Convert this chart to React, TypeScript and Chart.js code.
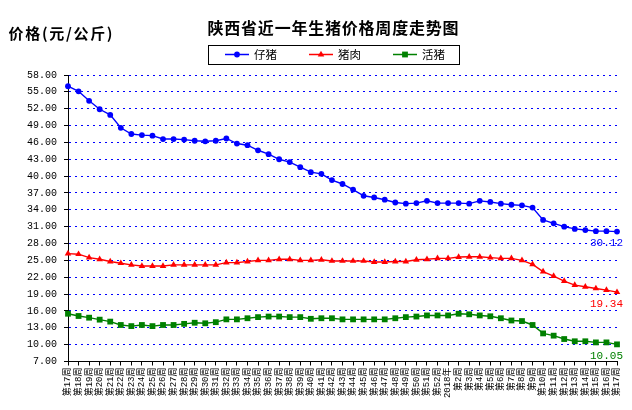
import React, { useEffect, useRef } from "react";
import { Chart, registerables } from "chart.js";

Chart.register(...registerables);

const chartTitle = "陕西省近一年生猪价格周度走势图";
const yUnitLabel = "价格(元/公斤)";

const weekLabels = [
  "第17周", "第18周", "第19周", "第20周", "第21周", "第22周", "第23周", "第24周", "第25周",
  "第26周", "第27周", "第28周", "第29周", "第30周", "第31周", "第32周", "第33周", "第34周",
  "第35周", "第36周", "第37周", "第38周", "第39周", "第40周", "第41周", "第42周", "第43周",
  "第44周", "第45周", "第46周", "第47周", "第48周", "第49周", "第50周", "第51周", "第52周",
  "2018年", "第2周", "第3周", "第4周", "第5周", "第6周", "第7周", "第8周", "第9周",
  "第10周", "第11周", "第12周", "第13周", "第14周", "第15周", "第16周", "第17周",
];

const pigletPrices = [
  56.0, 55.1, 53.4, 51.9, 50.9, 48.6, 47.5, 47.3, 47.2, 46.6,
  46.6, 46.5, 46.3, 46.2, 46.3, 46.7, 45.8, 45.5, 44.6, 43.9,
  43.0, 42.5, 41.6, 40.7, 40.4, 39.3, 38.6, 37.6, 36.5, 36.2,
  35.8, 35.3, 35.1, 35.2, 35.6, 35.2, 35.2, 35.2, 35.1, 35.6,
  35.4, 35.1, 34.9, 34.8, 34.4, 32.2, 31.6, 31.0, 30.6, 30.4,
  30.2, 30.2, 30.12,
];

const porkPrices = [
  26.2, 26.1, 25.5, 25.2, 24.8, 24.5, 24.2, 24.0, 24.0, 24.0,
  24.2, 24.2, 24.2, 24.2, 24.2, 24.6, 24.6, 24.8, 25.0, 25.0,
  25.2, 25.2, 25.0, 25.0, 25.1, 24.9, 24.9, 24.9, 24.9, 24.7,
  24.7, 24.8, 24.8, 25.1, 25.2, 25.35, 25.35, 25.6, 25.65, 25.65,
  25.5, 25.35, 25.35, 25.0, 24.3, 23.0, 22.2, 21.3, 20.6, 20.3,
  20.0, 19.7, 19.34,
];

const hogPrices = [
  15.5, 15.1, 14.8, 14.45, 14.1, 13.5, 13.3, 13.5, 13.3, 13.5,
  13.5, 13.7, 13.9, 13.8, 14.0, 14.5, 14.5, 14.7, 14.9, 15.0,
  15.0, 14.9, 14.9, 14.6, 14.7, 14.7, 14.5, 14.5, 14.5, 14.5,
  14.5, 14.7, 14.9, 15.0, 15.2, 15.2, 15.2, 15.5, 15.4, 15.2,
  15.05, 14.7, 14.3, 14.2, 13.5, 12.0, 11.6, 11.0, 10.6, 10.6,
  10.4, 10.4, 10.05,
];

const seriesNames = ["仔猪", "猪肉", "活猪"];
const seriesColors = ["#0000FF", "#FF0000", "#008000"];
const seriesMarkers = ["circle", "triangle", "rect"];

const yMin = 7;
const yMax = 58;
const yStep = 3;

const CJK = '"Noto Sans CJK SC"';
const MONO_CJK = '"Liberation Mono", "Noto Sans CJK SC"';

function fitText(ctx: CanvasRenderingContext2D, text: string, font: string, x: number, y: number, width: number) {
  ctx.font = font;
  (ctx as any).letterSpacing = "0px";
  const w = ctx.measureText(text).width;
  const n = Array.from(text).length;
  const sp = n > 1 ? (width - w) / (n - 1) : 0;
  (ctx as any).letterSpacing = `${sp}px`;
  ctx.fillText(text, x, y);
  (ctx as any).letterSpacing = "0px";
}

function drawMarker(ctx: CanvasRenderingContext2D, style: string, x: number, y: number, color: string) {
  ctx.fillStyle = color;
  ctx.beginPath();
  if (style === "circle") {
    ctx.arc(x, y, 2.9, 0, Math.PI * 2);
  } else if (style === "triangle") {
    const r = 3.8;
    ctx.moveTo(x, y - r);
    ctx.lineTo(x + r * 0.866, y + r * 0.5);
    ctx.lineTo(x - r * 0.866, y + r * 0.5);
    ctx.closePath();
  } else {
    const s = 2.9;
    ctx.rect(x - s, y - s, 2 * s, 2 * s);
  }
  ctx.fill();
}

const overlayPlugin = {
  id: "overlay",
  afterDraw(chart: any) {
    const ctx: CanvasRenderingContext2D = chart.ctx;
    ctx.save();
    ctx.fillStyle = "#000";
    ctx.textBaseline = "middle";
    ctx.textAlign = "left";
    fitText(ctx, chartTitle, `bold 16px ${CJK}`, 207.5, 28, 251);
    ctx.fillStyle = "#000";
    fitText(ctx, yUnitLabel, `bold 15px ${CJK}`, 8.5, 33, 104);

    // legend box
    ctx.strokeStyle = "#000";
    ctx.lineWidth = 1;
    ctx.strokeRect(208.5, 45.5, 251, 19);
    const legendX = [225, 309, 393];
    seriesNames.forEach((name, i) => {
      const x0 = legendX[i];
      const y0 = 54.5;
      ctx.strokeStyle = seriesColors[i];
      ctx.lineWidth = 1.5;
      ctx.beginPath();
      ctx.moveTo(x0, y0);
      ctx.lineTo(x0 + 24, y0);
      ctx.stroke();
      drawMarker(ctx, seriesMarkers[i], x0 + 12, y0, seriesColors[i]);
      ctx.fillStyle = "#000";
      ctx.font = `11.5px ${CJK}`;
      ctx.textAlign = "left";
      ctx.textBaseline = "middle";
      ctx.fillText(name, x0 + 29, y0);
    });

    // end value labels
    ctx.font = `11px ${MONO_CJK}`;
    ctx.textAlign = "right";
    ctx.textBaseline = "middle";
    chart.data.datasets.forEach((ds: any, i: number) => {
      const meta = chart.getDatasetMeta(i);
      const last = meta.data[meta.data.length - 1];
      const v = ds.data[ds.data.length - 1];
      ctx.fillStyle = seriesColors[i];
      ctx.fillText(Number(v).toFixed(2), last.x + 6, last.y + 11.5);
    });
    ctx.restore();
  },
};

export default function App() {
  const ref = useRef<HTMLCanvasElement>(null);
  useEffect(() => {
    if (!ref.current) return;
    const seriesData = [pigletPrices, porkPrices, hogPrices];
    const chart = new Chart(ref.current, {
      type: "line",
      data: {
        labels: weekLabels,
        datasets: seriesNames.map((name, i) => ({
          label: name,
          data: seriesData[i],
          borderColor: seriesColors[i],
          backgroundColor: seriesColors[i],
          borderWidth: 1.4,
          pointStyle: seriesMarkers[i] as any,
          pointRadius: i === 0 ? 2.9 : i === 1 ? 3.8 : 4.1,
          pointBorderWidth: 0,
          pointBackgroundColor: seriesColors[i],
          tension: 0,
          fill: false,
          clip: false as any,
        })),
      },
      options: {
        animation: false,
        responsive: true,
        maintainAspectRatio: false,
        layout: { padding: { top: 75, right: 15, left: 0, bottom: 0 } },
        plugins: {
          legend: { display: false },
          title: { display: false },
          tooltip: { enabled: false },
        },
        scales: {
          x: {
            type: "category",
            offset: false,
            afterFit: (s: any) => {
              s.height = 48.5;
            },
            grid: {
              display: true,
              drawOnChartArea: false,
              drawTicks: true,
              tickLength: 4,
              tickColor: "#000",
              color: "#000",
            },
            border: { display: true, color: "#000", width: 1 },
            ticks: {
              autoSkip: false,
              maxRotation: 90,
              minRotation: 90,
              padding: 2,
              color: "#000",
              font: { size: 9, family: MONO_CJK },
            },
          },
          y: {
            min: yMin,
            max: yMax,
            afterFit: (s: any) => {
              s.width = 68;
            },
            grid: {
              color: "#0000FF",
              lineWidth: 1,
              drawTicks: true,
              tickLength: 4,
              tickColor: "#000",
            },
            border: { display: true, color: "#000", width: 1, dash: [2, 4] },
            ticks: {
              stepSize: yStep,
              padding: 7,
              color: "#000",
              font: { size: 10, family: MONO_CJK },
              callback: (v: any) => Number(v).toFixed(2),
            },
          },
        },
      },
      plugins: [overlayPlugin],
    });
    return () => chart.destroy();
  }, []);
  return (
    <div style={{ position: "fixed", left: 0, top: 0, width: 632, height: 410, background: "#fff" }}>
      <canvas ref={ref} style={{ display: "block" }} />
    </div>
  );
}
